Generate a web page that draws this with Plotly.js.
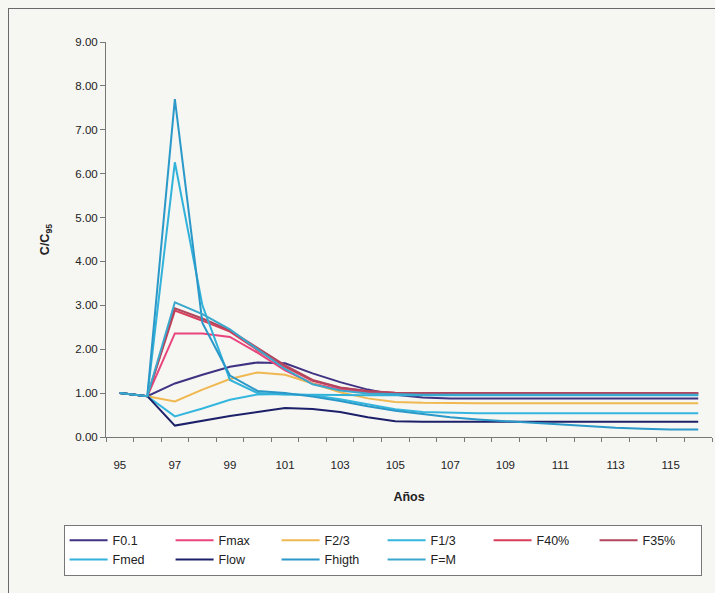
<!DOCTYPE html>
<html>
<head>
<meta charset="utf-8">
<script src="https://cdn.plot.ly/plotly-3.0.1.min.js"></script>
<style>
  html, body { margin: 0; padding: 0; background: #f6f6f3; overflow: hidden; }
  #frame { position: absolute; left: 8px; top: 8px; width: 800px; height: 700px; border: 1px solid #6a6a6a; box-sizing: border-box; z-index: 0; }
  #chart { position: absolute; left: 0; top: 0; width: 715px; height: 593px; z-index: 1; }
</style>
</head>
<body>
<div id="frame"></div>
<div id="chart"></div>
<script>
const years = [95,96,97,98,99,100,101,102,103,104,105,106,107,108,109,110,111,112,113,114,115,116];
const xTickLabels = ['95','97','99','101','103','105','107','109','111','113','115'];

const F01    = [1.00,0.93,1.22,1.42,1.60,1.70,1.68,1.45,1.25,1.08,0.96,0.90,0.88,0.88,0.88,0.88,0.88,0.88,0.88,0.88,0.88,0.88];
const Fmax   = [1.00,0.93,2.36,2.36,2.28,1.92,1.52,1.22,1.08,1.02,1.00,0.99,0.99,0.99,0.99,0.99,0.99,0.99,0.99,0.99,0.99,0.99];
const F23    = [1.00,0.93,0.81,1.08,1.32,1.47,1.42,1.22,1.02,0.88,0.80,0.78,0.77,0.77,0.77,0.77,0.77,0.77,0.77,0.77,0.77,0.77];
const F13    = [1.00,0.93,0.47,0.65,0.85,0.97,0.98,0.95,0.86,0.74,0.63,0.57,0.55,0.54,0.54,0.54,0.54,0.54,0.54,0.54,0.54,0.54];
const F40    = [1.00,0.93,2.88,2.65,2.40,1.98,1.60,1.28,1.12,1.04,1.00,0.99,0.99,0.99,0.99,0.99,0.99,0.99,0.99,0.99,0.99,0.99];
const F35    = [1.00,0.93,2.93,2.70,2.43,2.02,1.63,1.30,1.13,1.05,1.01,1.00,1.00,1.00,1.00,1.00,1.00,1.00,1.00,1.00,1.00,1.00];
const Fmed   = [1.00,0.93,6.26,3.00,1.30,1.00,0.97,0.96,0.96,0.95,0.95,0.95,0.95,0.95,0.95,0.95,0.95,0.95,0.95,0.95,0.95,0.95];
const Flow   = [1.00,0.93,0.26,0.37,0.48,0.57,0.66,0.64,0.57,0.45,0.36,0.35,0.35,0.35,0.35,0.35,0.35,0.35,0.35,0.35,0.35,0.35];
const Fhigth = [1.00,0.93,7.70,2.60,1.40,1.05,1.00,0.92,0.82,0.70,0.60,0.52,0.45,0.40,0.36,0.32,0.28,0.24,0.21,0.19,0.17,0.17];
const FeqM   = [1.00,0.93,3.07,2.80,2.45,2.00,1.55,1.20,1.06,0.99,0.97,0.96,0.96,0.96,0.96,0.96,0.96,0.96,0.96,0.96,0.96,0.96];

const seriesNames  = ['F0.1','Fmax','F2/3','F1/3','F40%','F35%','Fmed','Flow','Fhigth','F=M'];
const seriesValues = [F01, Fmax, F23, F13, F40, F35, Fmed, Flow, Fhigth, FeqM];
const seriesColors = ['#3f3282','#e8457c','#f0b850','#35b6de','#d83e5a','#b2465e','#30b2da','#1c2068','#2a98c8','#3aa8cc'];

const traces = seriesNames.map((n, i) => ({
  x: years, y: seriesValues[i], name: n, type: 'scatter', mode: 'lines',
  line: { color: seriesColors[i], width: 2 }
}));

const tickvalsX = xTickLabels.map(Number);
const boundaries = [];
for (let v = years[0] - 0.5; v <= years[years.length - 1] + 0.5; v += 1) boundaries.push(v);

const layout = {
  width: 715, height: 593,
  margin: { l: 106, r: 3, t: 42, b: 156 },
  paper_bgcolor: 'rgba(0,0,0,0)',
  plot_bgcolor: 'rgba(0,0,0,0)',
  font: { family: 'Liberation Sans, Arial, sans-serif', size: 11, color: '#222' },
  showlegend: true,
  xaxis: {
    range: [years[0] - 0.5, years[years.length - 1] + 0.5],
    tickmode: 'array', tickvals: tickvalsX, ticktext: xTickLabels,
    ticks: '', showgrid: false, zeroline: false,
    showline: true, linecolor: '#777', linewidth: 1,
    ticklabelstandoff: 17,
    minor: { tickmode: 'array', tickvals: boundaries, ticks: 'outside', ticklen: 4, tickcolor: '#777', showgrid: false },
    tickfont: { size: 11.5, color: '#222' },
    title: { text: '<b>Años</b>', font: { size: 12.5, color: '#222' }, standoff: 22 }
  },
  yaxis: {
    range: [0, 9], tickmode: 'linear', tick0: 0, dtick: 1, tickformat: '.2f',
    ticks: 'outside', ticklen: 5, tickcolor: '#777',
    showgrid: false, zeroline: false,
    showline: true, linecolor: '#777', linewidth: 1,
    tickfont: { size: 11.5, color: '#222' },
    title: { text: '<b>C/C<sub>95</sub></b>', font: { size: 12.5, color: '#222' }, standoff: 22 }
  },
  legend: {
    orientation: 'h', x: -0.07, y: -0.222, xanchor: 'left', yanchor: 'top',
    bgcolor: '#ffffff', bordercolor: '#777', borderwidth: 1,
    font: { size: 12.5, color: '#222' },
    itemwidth: 38,
    entrywidth: 53, entrywidthmode: 'pixels',
    traceorder: 'normal'
  }
};

Plotly.newPlot('chart', traces, layout, { displayModeBar: false, staticPlot: true });
</script>
</body>
</html>
